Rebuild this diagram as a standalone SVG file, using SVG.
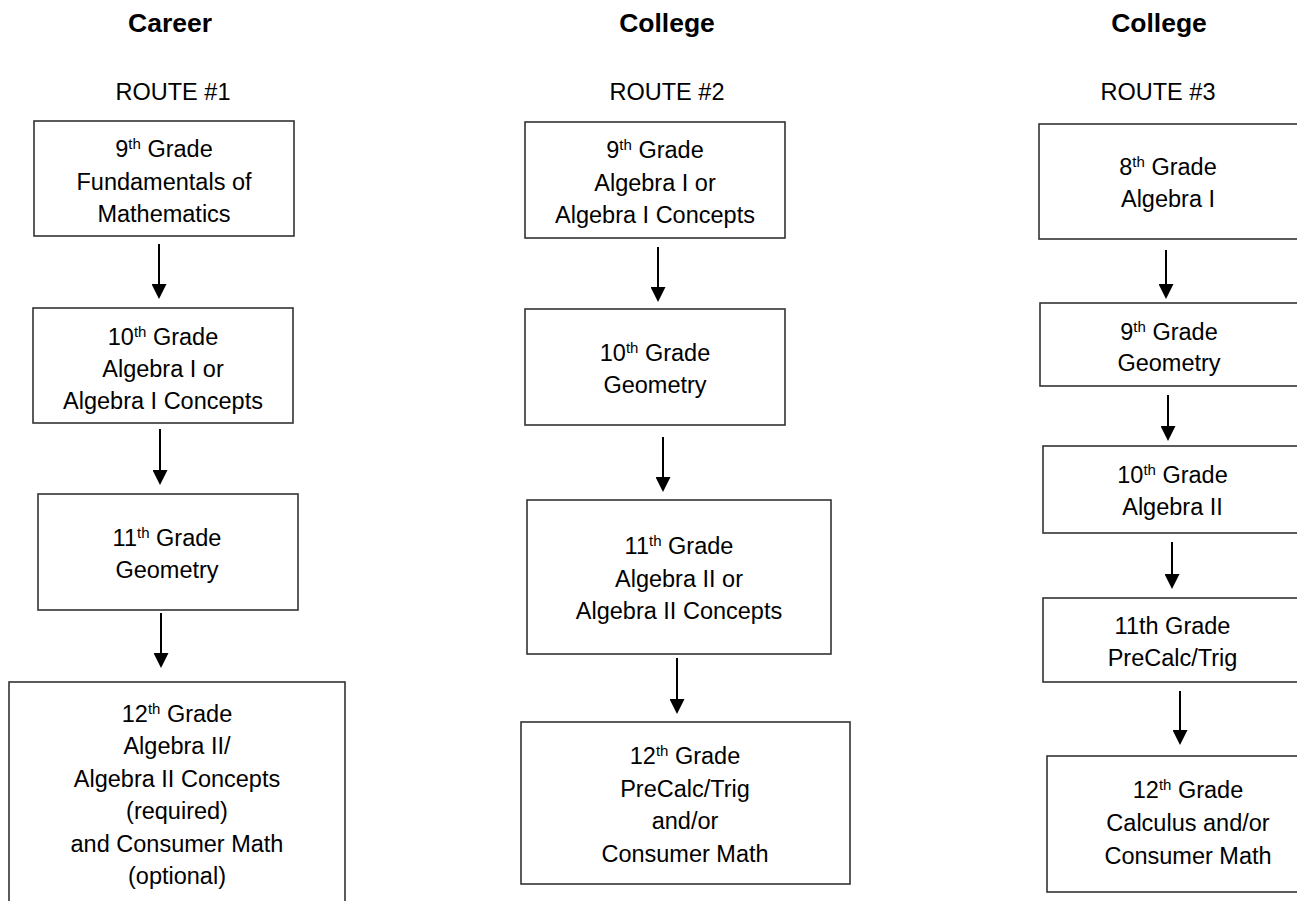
<svg xmlns="http://www.w3.org/2000/svg" width="1297" height="901" viewBox="0 0 1297 901">
<style>
.box{fill:#fff;stroke:#333;stroke-width:1.6}
.t{font-family:"Liberation Sans",Arial,sans-serif;font-size:23.5px;fill:#000;text-anchor:middle}
.h{font-family:"Liberation Sans",Arial,sans-serif;font-size:26.5px;font-weight:bold;fill:#000;text-anchor:middle}
.sup{font-size:15px}
.conn line{stroke:#000;stroke-width:2}
</style>
<defs>
<marker id="ah" markerWidth="15" markerHeight="15" refX="5" refY="7.5" orient="auto" markerUnits="userSpaceOnUse">
<path d="M0,0 L15,7.5 L0,15 z" fill="#000"/>
</marker>
</defs>
<rect width="1297" height="901" fill="#fff"/>

<g id="headers">
<text class="h" x="170" y="32">Career</text>
<text class="h" x="667" y="32">College</text>
<text class="h" x="1159" y="32">College</text>
<text class="t" x="173" y="100">ROUTE #1</text>
<text class="t" x="667" y="100">ROUTE #2</text>
<text class="t" x="1158" y="100">ROUTE #3</text>
</g>

<g id="r1n1">
<rect class="box" x="34" y="121" width="260" height="115"/>
<text class="t" x="164" y="157">9<tspan class="sup" dy="-8">th</tspan><tspan dy="8"> Grade</tspan></text>
<text class="t" x="164" y="189.5">Fundamentals of</text>
<text class="t" x="164" y="222">Mathematics</text>
</g>
<g id="r1n2">
<rect class="box" x="33" y="308" width="260" height="115"/>
<text class="t" x="163" y="344.5">10<tspan class="sup" dy="-8">th</tspan><tspan dy="8"> Grade</tspan></text>
<text class="t" x="163" y="376.5">Algebra I or</text>
<text class="t" x="163" y="408.5">Algebra I Concepts</text>
</g>
<g id="r1n3">
<rect class="box" x="38" y="494" width="260" height="116"/>
<text class="t" x="167" y="546">11<tspan class="sup" dy="-8">th</tspan><tspan dy="8"> Grade</tspan></text>
<text class="t" x="167" y="578">Geometry</text>
</g>
<g id="r1n4">
<rect class="box" x="9" y="682" width="336" height="260"/>
<text class="t" x="177" y="722">12<tspan class="sup" dy="-8">th</tspan><tspan dy="8"> Grade</tspan></text>
<text class="t" x="177" y="754">Algebra II/</text>
<text class="t" x="177" y="786.5">Algebra II Concepts</text>
<text class="t" x="177" y="819">(required)</text>
<text class="t" x="177" y="851.5">and Consumer Math</text>
<text class="t" x="177" y="884">(optional)</text>
</g>

<g id="r2n1">
<rect class="box" x="525" y="122" width="260" height="116"/>
<text class="t" x="655" y="157.5">9<tspan class="sup" dy="-8">th</tspan><tspan dy="8"> Grade</tspan></text>
<text class="t" x="655" y="190.5">Algebra I or</text>
<text class="t" x="655" y="222.5">Algebra I Concepts</text>
</g>
<g id="r2n2">
<rect class="box" x="525" y="309" width="260" height="116"/>
<text class="t" x="655" y="361">10<tspan class="sup" dy="-8">th</tspan><tspan dy="8"> Grade</tspan></text>
<text class="t" x="655" y="392.5">Geometry</text>
</g>
<g id="r2n3">
<rect class="box" x="527" y="500" width="304" height="154"/>
<text class="t" x="679" y="554">11<tspan class="sup" dy="-8">th</tspan><tspan dy="8"> Grade</tspan></text>
<text class="t" x="679" y="586.5">Algebra II or</text>
<text class="t" x="679" y="618.5">Algebra II Concepts</text>
</g>
<g id="r2n4">
<rect class="box" x="521" y="722" width="329" height="162"/>
<text class="t" x="685" y="764">12<tspan class="sup" dy="-8">th</tspan><tspan dy="8"> Grade</tspan></text>
<text class="t" x="685" y="796.5">PreCalc/Trig</text>
<text class="t" x="685" y="829">and/or</text>
<text class="t" x="685" y="861.5">Consumer Math</text>
</g>

<g id="r3n1">
<rect class="box" x="1039" y="124" width="300" height="115"/>
<text class="t" x="1168" y="175">8<tspan class="sup" dy="-8">th</tspan><tspan dy="8"> Grade</tspan></text>
<text class="t" x="1168" y="207">Algebra I</text>
</g>
<g id="r3n2">
<rect class="box" x="1040" y="303" width="300" height="83"/>
<text class="t" x="1169" y="339.5">9<tspan class="sup" dy="-8">th</tspan><tspan dy="8"> Grade</tspan></text>
<text class="t" x="1169" y="371">Geometry</text>
</g>
<g id="r3n3">
<rect class="box" x="1043" y="446" width="300" height="87"/>
<text class="t" x="1172.5" y="483">10<tspan class="sup" dy="-8">th</tspan><tspan dy="8"> Grade</tspan></text>
<text class="t" x="1172.5" y="514.5">Algebra II</text>
</g>
<g id="r3n4">
<rect class="box" x="1043" y="598" width="300" height="84"/>
<text class="t" x="1172.5" y="633.5">11th Grade</text>
<text class="t" x="1172.5" y="666">PreCalc/Trig</text>
</g>
<g id="r3n5">
<rect class="box" x="1047" y="756" width="300" height="136"/>
<text class="t" x="1188" y="798">12<tspan class="sup" dy="-8">th</tspan><tspan dy="8"> Grade</tspan></text>
<text class="t" x="1188" y="831">Calculus and/or</text>
<text class="t" x="1188" y="863.5">Consumer Math</text>
</g>

<g id="connectors" class="conn">
<line x1="159" y1="244" x2="159" y2="289" marker-end="url(#ah)"/>
<line x1="160" y1="429" x2="160" y2="475" marker-end="url(#ah)"/>
<line x1="161" y1="613" x2="161" y2="658" marker-end="url(#ah)"/>
<line x1="658" y1="247" x2="658" y2="292" marker-end="url(#ah)"/>
<line x1="663" y1="437" x2="663" y2="482" marker-end="url(#ah)"/>
<line x1="677" y1="658" x2="677" y2="704" marker-end="url(#ah)"/>
<line x1="1166" y1="250" x2="1166" y2="289" marker-end="url(#ah)"/>
<line x1="1168" y1="395" x2="1168" y2="431" marker-end="url(#ah)"/>
<line x1="1172" y1="542" x2="1172" y2="579" marker-end="url(#ah)"/>
<line x1="1180" y1="691" x2="1180" y2="735" marker-end="url(#ah)"/>
</g>
</svg>
